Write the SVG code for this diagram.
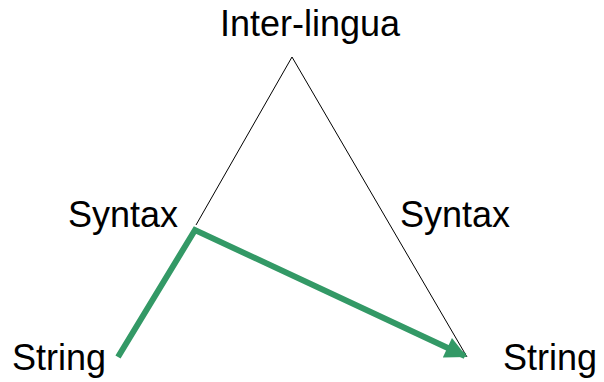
<svg xmlns="http://www.w3.org/2000/svg" width="604" height="382" viewBox="0 0 604 382">
<style>
  .lbl { font-family: "Liberation Sans", Arial, sans-serif; font-size: 36px; fill: #000; }
  .thin { stroke: #000; stroke-width: 1; fill: none; }
  .green { stroke: #339966; stroke-width: 6; fill: none; }
</style>
<defs>
  <marker id="ah" viewBox="0 0 10 10" refX="9" refY="5" markerWidth="4" markerHeight="3.6" orient="auto" markerUnits="strokeWidth">
    <path d="M0,0 L10,5 L0,10 Z" fill="#339966"/>
  </marker>
</defs>
<rect width="604" height="382" fill="#fff"/>
<g id="connectors">
  <path class="thin" d="M196,225 L292,57 L467,357"/>
  <path class="green" d="M118,357 L195,230 L465,356" stroke-linejoin="miter" marker-end="url(#ah)"/>
</g>
<g id="interlingua"><text class="lbl" x="310" y="36" text-anchor="middle">Inter-lingua</text></g>
<g id="syntax-left"><text class="lbl" x="68" y="227">Syntax</text></g>
<g id="syntax-right"><text class="lbl" x="400" y="227">Syntax</text></g>
<g id="string-left"><text class="lbl" x="12" y="370">String</text></g>
<g id="string-right"><text class="lbl" x="503" y="370">String</text></g>
</svg>
